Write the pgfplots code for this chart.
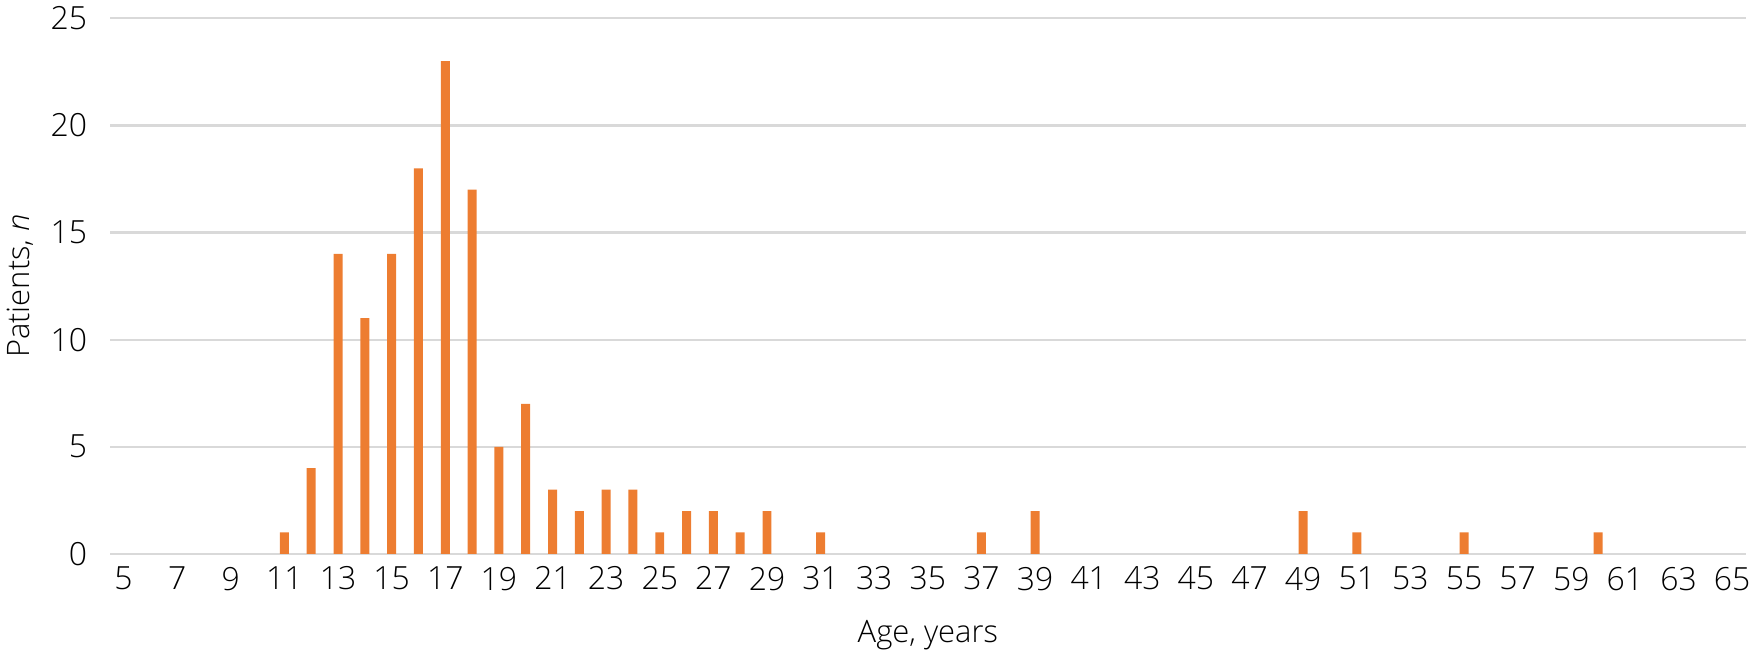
\documentclass[border=0pt]{standalone}
\usepackage{fontspec}
\setmainfont{Open Sans}[UprightFont=* Light, ItalicFont=* Light Italic]
\usepackage{pgfplots}
\pgfplotsset{compat=1.18}
\definecolor{barorange}{HTML}{ED7D31}
\definecolor{gridgray}{HTML}{D9D9D9}

\begin{document}
\begin{tikzpicture}
\begin{axis}[
  scale only axis,
  width=820pt, height=268.5pt,
  ybar, bar width=4.5pt,
  xmin=4.5, xmax=65.5,
  ymin=0, ymax=25,
  xtick={5,7,...,65},
  ytick={0,5,...,25},
  axis line style={draw=none},
  major tick length=0pt,
  ymajorgrids, grid style={gridgray, line width=1.1pt},
  /pgf/number format/assume math mode=true,
  tick label style={font=\fontsize{16}{18}\selectfont, text=black},
  xticklabel style={yshift=-3pt},
  yticklabel style={xshift=-8pt},
  label style={font=\fontsize{15.5}{18}\selectfont},
  xlabel={Age, years},
  ylabel={Patients, \textit{n}},
  xlabel style={yshift=-8pt},
  ylabel style={yshift=2pt},
]
\addplot[fill=barorange, draw=none] coordinates {
  (11,1) (12,4) (13,14) (14,11) (15,14) (16,18) (17,23) (18,17)
  (19,5) (20,7) (21,3) (22,2) (23,3) (24,3) (25,1) (26,2) (27,2)
  (28,1) (29,2) (31,1) (37,1) (39,2) (49,2) (51,1) (55,1) (60,1)
};
\end{axis}
\end{tikzpicture}
\end{document}
